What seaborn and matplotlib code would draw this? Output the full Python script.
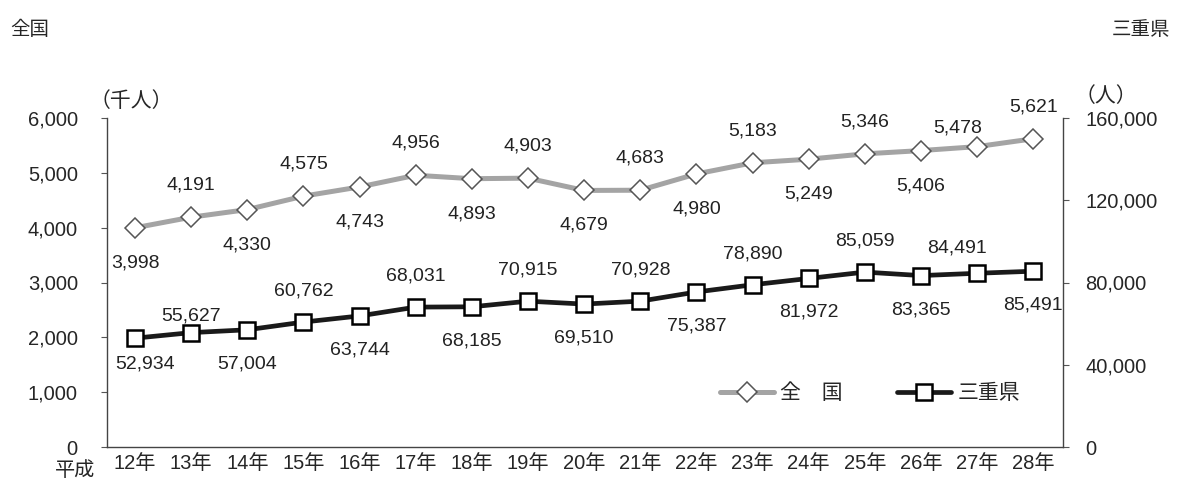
import numpy as np
import pandas as pd
import matplotlib
matplotlib.use("Agg")
import matplotlib.pyplot as plt
import seaborn as sns

# data
years = ["12年", "13年", "14年", "15年", "16年", "17年", "18年", "19年", "20年",
         "21年", "22年", "23年", "24年", "25年", "26年", "27年", "28年"]
zenkoku = [3998, 4191, 4330, 4575, 4743, 4956, 4893, 4903, 4679,
           4683, 4980, 5183, 5249, 5346, 5406, 5478, 5621]
mie = [52934, 55627, 57004, 60762, 63744, 68031, 68185, 70915, 69510,
       70928, 75387, 78890, 81972, 85059, 83365, 84491, 85491]

# label side for each point (above / below)
zen_side = ["b", "a", "b", "a", "b", "a", "b", "a", "b", "a", "b", "a", "b", "a", "b", "a", "a"]
mie_side = ["b", "a", "b", "a", "b", "a", "b", "a", "b", "a", "b", "a", "b", "a", "b", "a", "b"]
# a few labels are nudged in the original (pixel offsets)
zen_nudge = {15: (-19, -13)}
mie_nudge = {0: (10, 8), 1: (0, -14), 15: (-20, -6)}

sns.set_style("white")
plt.rcParams["font.family"] = ["Liberation Sans", "Noto Sans CJK JP", "DejaVu Sans"]

df = pd.DataFrame({"pos": np.arange(len(years)), "zenkoku": zenkoku, "mie": mie})

fig = plt.figure(figsize=(11.8, 4.9), dpi=100)
ax = fig.add_axes([107 / 1180, 43 / 490, 956 / 1180, 329 / 490])
ax2 = ax.twinx()

sns.lineplot(data=df, x="pos", y="zenkoku", ax=ax, color="#a4a4a4", linewidth=3.6,
             marker="D", markersize=10.5, markerfacecolor="white",
             markeredgecolor="#555555", markeredgewidth=1.1, label="全　国", legend=False)
sns.lineplot(data=df, x="pos", y="mie", ax=ax2, color="#1a1a1a", linewidth=3.4,
             marker="s", markersize=12, markerfacecolor="white",
             markeredgecolor="black", markeredgewidth=1.8, label="三重県", legend=False)

ax.set_xlim(-0.47, len(years) - 0.47)
ax.set_ylim(0, 6000)
ax2.set_ylim(0, 160000)
ax.set_yticks(np.arange(0, 6001, 1000))
ax2.set_yticks(np.arange(0, 160001, 40000))
ax.yaxis.set_major_formatter(matplotlib.ticker.StrMethodFormatter("{x:,.0f}"))
ax2.yaxis.set_major_formatter(matplotlib.ticker.StrMethodFormatter("{x:,.0f}"))
ax.set_xticks(np.arange(len(years)))
ax.set_xticklabels(years)
ax.set_xticks(np.arange(len(years) + 1) - 0.5, minor=True)
ax.set_xlabel("")
ax.set_ylabel("")
ax2.set_ylabel("")

ax.tick_params(axis="x", which="major", length=0, labelsize=14.5, pad=5)
ax.tick_params(axis="x", which="minor", length=4, width=0.8, direction="out", color="#555555")
ax.tick_params(axis="y", length=4, width=0.8, labelsize=14.5, pad=17, color="#555555")
ax2.tick_params(axis="y", length=4, width=0.8, labelsize=14.5, pad=12, color="#555555")

for a in (ax, ax2):
    for s in a.spines.values():
        s.set_visible(False)
for name in ("left", "bottom"):
    ax.spines[name].set_visible(True)
    ax.spines[name].set_linestyle((0, (1, 1)))
    ax.spines[name].set_color("#444444")
    ax.spines[name].set_linewidth(1)
ax2.spines["right"].set_visible(True)
ax2.spines["right"].set_linestyle((0, (1, 1)))
ax2.spines["right"].set_color("#444444")
ax2.spines["right"].set_linewidth(1)

# data labels
for i, (v, s) in enumerate(zip(zenkoku, zen_side)):
    dx, dy = (0, 32) if s == "a" else (0, -35)
    ndx, ndy = zen_nudge.get(i, (0, 0))
    ax.annotate(f"{v:,}", (i, v), xytext=(dx + ndx, dy + ndy), textcoords="offset pixels",
                ha="center", va="center", fontsize=14, color="#222222")
for i, (v, s) in enumerate(zip(mie, mie_side)):
    dx, dy = (0, 31) if s == "a" else (0, -34)
    ndx, ndy = mie_nudge.get(i, (0, 0))
    ax2.annotate(f"{v:,}", (i, v), xytext=(dx + ndx, dy + ndy), textcoords="offset pixels",
                 ha="center", va="center", fontsize=14, color="#222222")

# legend
h1, l1 = ax.get_legend_handles_labels()
h2, l2 = ax2.get_legend_handles_labels()
ax2.legend(h1 + h2, l1 + l2, loc="center right", bbox_to_anchor=(0.955, 0.164), ncol=2,
           frameon=False, fontsize=15, handlelength=2.6, columnspacing=2.6,
           handletextpad=0.3, borderpad=0, borderaxespad=0)

# extra texts
fig.text(10 / 1180, 1 - 30 / 490, "全国", fontsize=14, va="center", ha="left")
fig.text(1170 / 1180, 1 - 30 / 490, "三重県", fontsize=14, va="center", ha="right")
fig.text(90 / 1180, 1 - 101 / 490, "（千人）", fontsize=15, va="center", ha="left")
fig.text(1075 / 1180, 1 - 96 / 490, "（人）", fontsize=15, va="center", ha="left")
fig.text(55 / 1180, 1 - 470 / 490, "平成", fontsize=14.5, va="center", ha="left")

fig.savefig("out.png", dpi=100)
